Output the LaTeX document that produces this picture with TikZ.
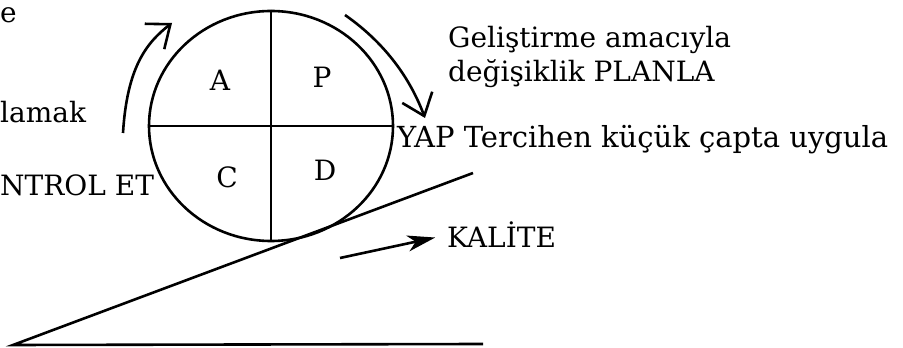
\documentclass[tikz,border=0pt]{standalone}
\usepackage{fontspec}
\setmainfont{DejaVu Serif}
\usepackage{tikz}
\usetikzlibrary{arrows.meta,positioning,shapes.geometric,calc}
\tikzset{
 txt/.style={inner sep=0pt,anchor=west,font=\fontsize{28}{32}\selectfont},
 bigtxt/.style={txt,font=\fontsize{29}{32}\selectfont},
 letter/.style={inner sep=0pt,font=\fontsize{28}{30}\selectfont},
 thickline/.style={line width=2.6pt},
 cyclearrow/.style={-{Straight Barb[length=20pt,width=32pt]},line width=2.6pt},
 qarrow/.style={-{Stealth[length=28pt,width=16pt,inset=8pt]},line width=2.6pt},
}

\begin{document}
\begin{tikzpicture}[x=1pt,y=1pt]
\useasboundingbox (0,0) rectangle (903,348);
% the PDCA wheel
\node[ellipse,draw,thickline,minimum width=244pt,minimum height=230pt,inner sep=0pt] (wheel) at (271,222) {};
\draw[thickline] (wheel.north) -- (wheel.south);
\draw[thickline] (wheel.west) -- (wheel.east);
\node[letter] (a) at (220,268) {A};
\node[letter] (p) at (322,271) {P};
\node[letter] (c) at (227,171) {C};
\node[letter] (d) at (325,178) {D};
% the slope
\coordinate (foot) at (13,3);
\coordinate (top) at (473,175);
\coordinate (base) at (483,4);
\draw[thickline] (top) -- (foot) -- (base);
% cycle arrows
\coordinate (l0) at (123,215);
\coordinate (l1) at (172,325);
\draw[cyclearrow] (l0) .. controls (127,280) and (146,305) .. (l1);
\coordinate (r0) at (345,333);
\coordinate (r1) at (425,230);
\draw[cyclearrow] (r0) .. controls (385,305) and (410,270) .. (r1);
% texts
\node[txt] (t1) at (0,333) {e};
\node[txt] (t2) at (0,236) {lamak};
\node[txt] (t3) at (0,163) {NTROL ET};
\node[txt] (plan1) at (448,308) {Geliştirme amacıyla};
\node[txt,below=5pt of plan1.south west,anchor=north west] (plan2) {değişiklik PLANLA};
\node[bigtxt] (yap) at (397,208) {YAP Tercihen küçük çapta uygula};
\node[txt] (kal) at (447,113) {KALİTE};
\coordinate (k0) at (340,90);
\draw[qarrow,shorten >=12pt] (k0) -- (kal.west);
\end{tikzpicture}
\end{document}
